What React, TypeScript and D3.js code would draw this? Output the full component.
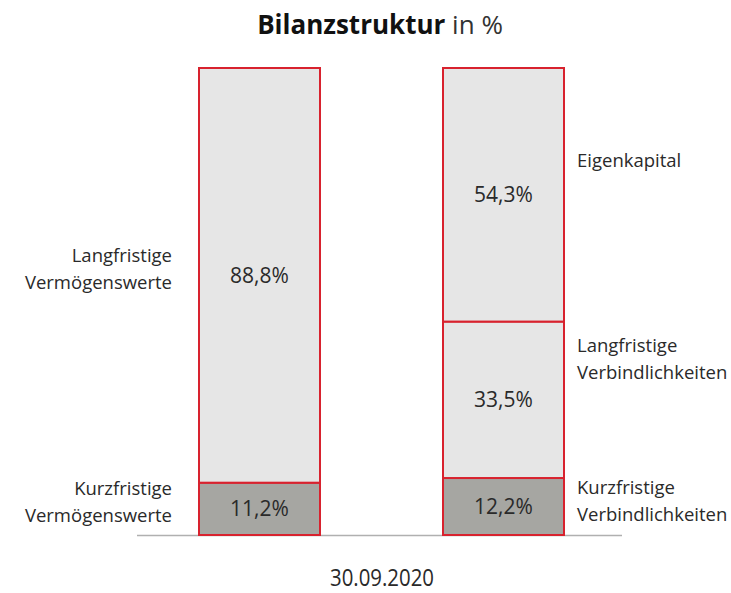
import React from "react";
import * as d3 from "d3";

const columns = ["Aktiva", "Passiva"];
const aktivaLabels = ["Kurzfristige\nVermögenswerte", "Langfristige\nVermögenswerte"];
const aktivaValues = [11.2, 88.8];
const passivaLabels = ["Kurzfristige\nVerbindlichkeiten", "Langfristige\nVerbindlichkeiten", "Eigenkapital"];
const passivaValues = [12.2, 33.5, 54.3];
const dateLabel = "30.09.2020";

const W = 731;
const H = 593;
const FONT = "'Open Sans', 'Noto Sans', sans-serif";
const RED = "#d8222e";
const LIGHT = "#e6e6e6";
const DARK = "#a6a6a2";
const TEXT = "#2a2a2a";

export default function App() {
  const y = d3.scaleLinear().domain([0, 100]).range([535, 68]);
  const x = d3.scaleOrdinal<string, number>().domain(columns).range([199, 443]);
  const bw = 121;

  const stacks = [
    { col: "Aktiva", labels: aktivaLabels, values: aktivaValues, side: "left" },
    { col: "Passiva", labels: passivaLabels, values: passivaValues, side: "right" },
  ];

  const fmt = (v: number) => v.toFixed(1).replace(".", ",") + "%";

  const labelY: Record<string, number[]> = {
    Aktiva: [488, 255],
    Passiva: [487, 345, 160],
  };

  return (
    <svg width={W} height={H} style={{ position: "absolute", left: 0, top: 0 }} fontFamily={FONT}>
      <rect width={W} height={H} fill="#fff" />
      <text x={380} y={34} textAnchor="middle" fontSize={26} fill="#111">
        <tspan fontWeight="bold">Bilanzstruktur</tspan>
        <tspan fill="#333"> in %</tspan>
      </text>
      <line x1={137} x2={622} y1={535.5} y2={535.5} stroke="#b0b0b0" strokeWidth={1.5} />
      {stacks.map((s) => {
        let acc = 0;
        const x0 = x(s.col);
        const lx = s.side === "left" ? 172 : 577;
        return (
          <g key={s.col}>
            {s.values.map((v, i) => {
              const lo = acc;
              acc += v;
              const yTop = y(acc);
              const yBot = y(lo);
              const lines = s.labels[i].split("\n");
              const ly = labelY[s.col][i];
              return (
                <g key={i}>
                  <rect
                    x={x0}
                    y={yTop}
                    width={bw}
                    height={yBot - yTop}
                    fill={i === 0 ? DARK : LIGHT}
                    stroke={RED}
                    strokeWidth={2}
                  />
                  <text
                    x={x0 + bw / 2}
                    y={(yTop + yBot) / 2 + 7.5}
                    textAnchor="middle"
                    fontSize={21}
                    fill={TEXT}
                  >
                    {fmt(v)}
                  </text>
                  <text
                    x={lx}
                    y={ly}
                    textAnchor={s.side === "left" ? "end" : "start"}
                    fontSize={18.5}
                    fill={TEXT}
                  >
                    {lines.map((l, k) => (
                      <tspan key={k} x={lx} dy={k === 0 ? 6.5 : 27.5}>
                        {l}
                      </tspan>
                    ))}
                  </text>
                </g>
              );
            })}
          </g>
        );
      })}
      <text
        x={330}
        y={586}
        fontSize={23}
        fill={TEXT}
        textLength={104}
        lengthAdjust="spacingAndGlyphs"
      >
        {dateLabel}
      </text>
    </svg>
  );
}
